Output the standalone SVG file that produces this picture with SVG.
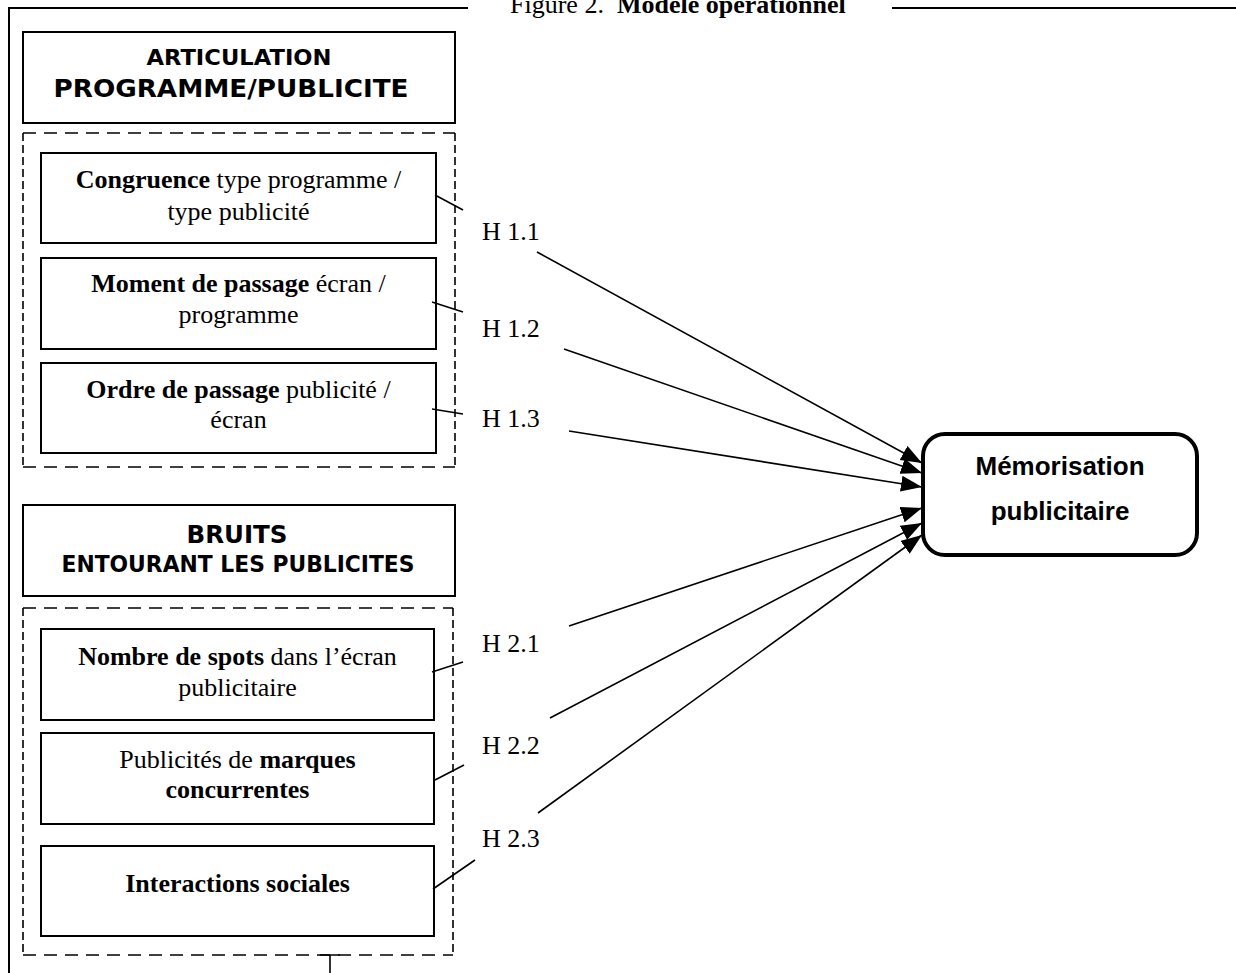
<svg xmlns="http://www.w3.org/2000/svg" width="1236" height="973" viewBox="0 0 1236 973">
<style>
.serif{font-family:"Liberation Serif","Times New Roman",serif;font-size:26px;fill:#000}
.hdr{font-family:"DejaVu Sans",Verdana,sans-serif;font-weight:bold;fill:#000}
.box{fill:#fff;stroke:#000;stroke-width:2}
.dh{fill:none;stroke:#000;stroke-width:1.6;stroke-dasharray:13 8}
.dv{fill:none;stroke:#000;stroke-width:1.6;stroke-dasharray:8 4}
.frame{fill:none;stroke:#000;stroke-width:2}
.conn{stroke:#000;stroke-width:1.6;fill:none}
</style>
<defs>
<marker id="arr" markerUnits="userSpaceOnUse" markerWidth="24" markerHeight="18" refX="21" refY="8" orient="auto">
<path d="M0,0 L21,8 L0,16 z" fill="#000"/>
</marker>
</defs>
<rect width="1236" height="973" fill="#fff"/>
<g id="frame">
<path class="frame" d="M9,973 V8 H468 M892,8 H1236"/>
<text class="serif" x="510" y="13" font-size="27" xml:space="preserve">Figure 2.  <tspan font-weight="bold">Modèle opérationnel</tspan></text>
</g>
<g id="hdr1">
<rect class="box" x="23" y="32" width="432" height="91"/>
<text class="hdr" x="239" y="65" font-size="22" text-anchor="middle" textLength="185" lengthAdjust="spacingAndGlyphs">ARTICULATION</text>
<text class="hdr" x="231" y="97" font-size="24" text-anchor="middle" textLength="355" lengthAdjust="spacingAndGlyphs">PROGRAMME/PUBLICITE</text>
</g>
<g id="group1">
<path class="dh" d="M23,133 H455 M23,467 H455"/>
<path class="dv" d="M23,133 V467 M455,133 V467"/>
</g>
<g id="congruence">
<rect class="box" x="41" y="153" width="395" height="90"/>
<text class="serif" x="238.5" y="188" text-anchor="middle"><tspan font-weight="bold">Congruence</tspan> type programme /</text>
<text class="serif" x="238.5" y="220" text-anchor="middle">type publicité</text>
</g>
<g id="moment">
<rect class="box" x="41" y="258" width="395" height="91"/>
<text class="serif" x="238.5" y="292" text-anchor="middle"><tspan font-weight="bold">Moment de passage</tspan> écran /</text>
<text class="serif" x="238.5" y="323" text-anchor="middle">programme</text>
</g>
<g id="ordre">
<rect class="box" x="41" y="363" width="395" height="90"/>
<text class="serif" x="238.5" y="398" text-anchor="middle"><tspan font-weight="bold">Ordre de passage</tspan> publicité /</text>
<text class="serif" x="238.5" y="428" text-anchor="middle">écran</text>
</g>
<g id="hdr2">
<rect class="box" x="23" y="505" width="432" height="91"/>
<text class="hdr" x="237" y="543" font-size="24" text-anchor="middle" textLength="101" lengthAdjust="spacingAndGlyphs">BRUITS</text>
<text class="hdr" x="238" y="572" font-size="23" text-anchor="middle" textLength="353" lengthAdjust="spacingAndGlyphs">ENTOURANT LES PUBLICITES</text>
</g>
<g id="group2">
<path class="dh" d="M23,608 H453 M23,955 H453"/>
<path class="dv" d="M23,608 V955 M453,608 V955"/>
</g>
<g id="nombre">
<rect class="box" x="41" y="629" width="393" height="91"/>
<text class="serif" x="237.5" y="665" text-anchor="middle"><tspan font-weight="bold">Nombre de spots</tspan> dans l’écran</text>
<text class="serif" x="237.5" y="696" text-anchor="middle">publicitaire</text>
</g>
<g id="marques">
<rect class="box" x="41" y="733" width="393" height="91"/>
<text class="serif" x="237.5" y="768" text-anchor="middle">Publicités de <tspan font-weight="bold">marques</tspan></text>
<text class="serif" x="237.5" y="798" text-anchor="middle" font-weight="bold">concurrentes</text>
</g>
<g id="interactions">
<rect class="box" x="41" y="846" width="393" height="90"/>
<text class="serif" x="237.5" y="892" text-anchor="middle" font-weight="bold">Interactions sociales</text>
</g>
<g id="memorisation">
<rect x="923" y="434" width="274" height="121" rx="22" ry="22" fill="#fff" stroke="#000" stroke-width="4"/>
<text x="1060" y="475" text-anchor="middle" font-family="'Liberation Sans',Arial,sans-serif" font-weight="bold" font-size="26">Mémorisation</text>
<text x="1060" y="520" text-anchor="middle" font-family="'Liberation Sans',Arial,sans-serif" font-weight="bold" font-size="26">publicitaire</text>
</g>
<g id="connectors">
<line class="conn" x1="435" y1="195" x2="463" y2="210"/>
<line class="conn" x1="432" y1="302" x2="463" y2="312"/>
<line class="conn" x1="432" y1="409" x2="463" y2="414"/>
<line class="conn" x1="432" y1="672" x2="463" y2="662"/>
<line class="conn" x1="435" y1="780" x2="464" y2="765"/>
<line class="conn" x1="433" y1="889" x2="475" y2="860"/>
<line class="conn" x1="537" y1="252" x2="922" y2="463" marker-end="url(#arr)"/>
<line class="conn" x1="564" y1="349" x2="922" y2="473" marker-end="url(#arr)"/>
<line class="conn" x1="569" y1="431" x2="922" y2="487" marker-end="url(#arr)"/>
<line class="conn" x1="569" y1="626" x2="922" y2="508" marker-end="url(#arr)"/>
<line class="conn" x1="550" y1="718" x2="922" y2="523" marker-end="url(#arr)"/>
<line class="conn" x1="538" y1="813" x2="922" y2="535" marker-end="url(#arr)"/>
<path class="conn" d="M320,955 H340 M330,955 V973"/>
<text class="serif" x="482" y="240">H 1.1</text>
<text class="serif" x="482" y="337">H 1.2</text>
<text class="serif" x="482" y="427">H 1.3</text>
<text class="serif" x="482" y="652">H 2.1</text>
<text class="serif" x="482" y="754">H 2.2</text>
<text class="serif" x="482" y="847">H 2.3</text>
</g>
</svg>
